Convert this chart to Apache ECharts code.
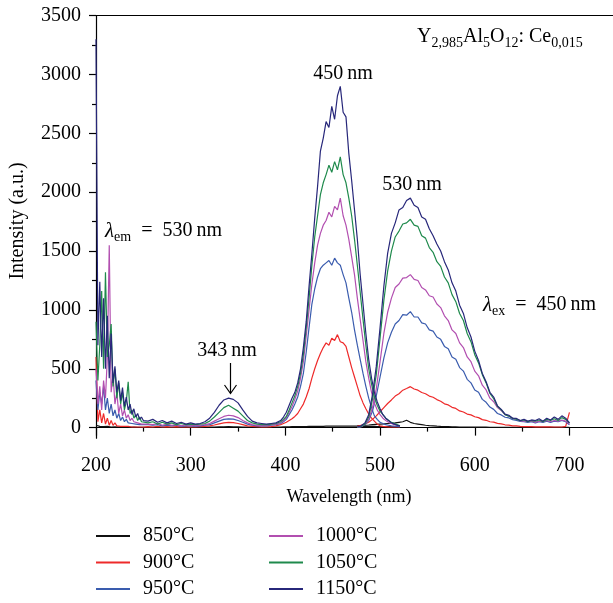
<!DOCTYPE html>
<html><head><meta charset="utf-8">
<script src="https://cdn.jsdelivr.net/npm/echarts@6/dist/echarts.min.js"></script>
<style>html,body{margin:0;padding:0;background:#fff}#c{width:613px;height:603px}</style>
</head><body><div id="c"></div>
<script>
const temps = ['850°C','900°C','950°C','1000°C','1050°C','1150°C'];
const colors = ['#111111','#ee2a2a','#3a5cae','#b24fb0','#1f8a4c','#27277a'];

const excWl = [200,202,204,206,208,210,212,214,216,218,220,222,224,226,228,230,232,234,236,238,240,242,244,246,248,250,
255,260,265,270,275,280,285,290,295,300,305,310,315,320,325,330,335,340,345,350,355,360,365,370,375,380,385,390,395,
398,401,404,407,410,413,416,419,422,425,428,431,434,437,440,443,446,449,452,455,458,461,464,467,470,473,476,479,482,485,488,491,494,497,500,503,506,509,512,515,518,521];
const emWl = [476,480,484,488,492,496,500,504,508,512,516,520,524,528,532,536,540,544,548,552,556,560,564,568,572,576,580,584,588,592,596,600,604,608,612,616,620,624,628,632,636,640,644,648,652,656,660,664,668,672,676,680,684,688,692,696,700];

const exc850 = [20,5,10,0,8,3,10,0,5,2,6,0,5,2,4,1,5,2,3,1,4,2,3,1,2,1,
2,3,1,2,3,1,2,2,1,3,2,2,3,4,5,6,7,8,7,6,5,4,3,3,2,3,3,4,5,
6,7,7,8,8,8,9,9,9,10,10,10,11,11,11,12,12,12,12,13,13,13,13,13,13,12,12,12,11,11,10,10,10,9,9,9,8,8,8,7,7,7];
const exc900 = [600,50,150,40,120,30,80,20,60,20,40,15,30,10,25,10,20,10,15,5,10,5,10,5,8,5,
8,5,10,5,8,5,8,5,8,5,5,8,10,15,22,32,40,45,42,35,25,15,10,8,5,5,8,15,25,
35,45,60,75,95,120,160,200,260,330,420,500,570,630,680,720,700,760,740,790,730,720,690,600,510,430,350,270,210,160,115,80,55,30,15,10,8,5,5,5,5,5];
const exc950 = [400,150,300,200,350,150,250,120,200,100,150,80,120,60,90,50,70,40,55,35,45,30,35,25,30,25,
25,20,25,15,20,15,20,10,15,15,10,15,20,25,40,55,70,75,72,60,45,30,20,15,15,15,20,25,35,
50,70,110,150,200,260,350,460,640,850,1050,1180,1280,1350,1380,1400,1420,1380,1440,1400,1380,1300,1230,1100,980,830,700,580,460,350,250,170,100,70,45,35,25,20,15,12,10,8];
const exc1000 = [500,200,350,150,400,250,600,1550,300,450,200,300,120,200,100,150,80,110,60,80,50,60,40,50,30,40,
30,25,35,20,30,20,25,15,25,20,15,20,25,35,55,75,95,105,100,85,60,40,25,20,15,20,25,30,40,
60,85,130,180,240,310,420,560,780,1000,1220,1400,1550,1650,1720,1760,1830,1790,1880,1850,1950,1800,1720,1600,1450,1300,1100,920,740,560,420,300,210,150,110,80,60,45,35,25,20,15];
const exc1050 = [900,400,700,1160,500,1320,600,700,880,350,500,250,380,200,300,150,220,390,120,150,80,110,60,90,50,60,
40,50,30,45,30,40,25,35,25,30,25,30,35,55,90,130,170,190,165,140,100,60,40,30,25,25,30,35,50,
70,95,150,210,270,350,460,620,850,1100,1380,1620,1800,1980,2080,2150,2230,2170,2260,2190,2300,2150,2080,1950,1800,1600,1380,1150,920,700,500,370,260,190,140,110,80,60,45,35,25,15];
const exc1150 = [3300,700,1240,600,1100,500,950,420,800,380,520,300,400,230,340,180,260,150,200,110,160,90,120,70,90,60,
55,70,45,60,40,55,35,45,30,40,30,35,50,80,130,190,235,250,240,210,150,95,55,40,35,30,35,40,60,
90,130,190,250,300,380,500,680,900,1200,1480,1780,2050,2350,2460,2600,2550,2730,2620,2820,2900,2680,2640,2330,2100,1850,1600,1300,1050,800,580,420,300,220,160,110,80,60,40,30,20,15];

const em850 = [15,18,20,22,25,28,30,32,35,38,40,45,50,62,45,35,30,25,20,17,15,12,10,9,8,7,6,5,5,5,4,4,4,4,4,3,3,3,3,3,3,3,3,3,3,3,3,3,3,3,3,3,3,3,3,3,3];
const em900 = [10,20,30,45,70,100,135,170,205,235,268,288,318,332,348,328,318,298,288,268,258,238,224,202,193,172,163,142,133,115,108,92,85,68,62,50,47,36,32,24,21,15,14,10,9,8,8,7,7,6,6,6,5,5,5,10,130];
const em950 = [2,8,25,60,140,270,430,590,720,810,880,910,960,955,985,940,940,890,880,830,820,770,750,690,670,600,580,510,480,410,380,320,300,240,215,175,155,120,108,88,82,68,62,53,50,45,50,40,50,45,55,45,55,50,60,50,25];
const em1000 = [2,8,30,70,170,330,560,800,980,1100,1190,1220,1270,1275,1300,1260,1250,1190,1170,1120,1110,1050,1020,950,910,830,800,720,680,600,560,480,440,360,320,250,220,170,145,110,98,78,72,58,55,50,55,45,55,50,60,50,60,55,65,55,30];
const em1050 = [3,10,30,90,240,450,760,1080,1330,1500,1620,1670,1730,1740,1770,1720,1710,1630,1610,1530,1490,1410,1370,1280,1230,1130,1070,970,910,800,730,620,550,450,380,290,245,180,150,110,98,78,72,58,65,50,60,55,65,50,70,60,75,60,85,70,40];
const em1150 = [5,15,40,110,280,520,850,1200,1480,1650,1740,1850,1870,1930,1950,1890,1870,1790,1770,1690,1630,1560,1500,1410,1340,1230,1160,1040,970,850,770,650,570,460,390,300,260,185,155,115,105,80,78,60,70,55,65,60,75,55,80,65,90,70,100,80,40];

const xTicks = [200,300,400,500,600,700];
const xMinorTicks = [250,350,450,550,650];
const yTicks = [0,500,1000,1500,2000,2500,3000,3500];
const yMinorTicks = [250,750,1250,1750,2250,2750,3250];

const excAll = [exc850,exc900,exc950,exc1000,exc1050,exc1150];
const emAll = [em850,em900,em950,em1000,em1050,em1150];

const F = 'Liberation Serif';
const X_MIN = 200, X_MAX = 746, Y_MIN = -90, Y_MAX = 3500;
const zip = (xs, ys) => xs.map((x, i) => [x, ys[i]]);

const series = [];
temps.forEach((t, i) => {
  [zip(excWl, excAll[i]), zip(emWl, emAll[i])].forEach(d => {
    series.push({
      name: t, type: 'line', data: d, xAxisIndex: 0, yAxisIndex: 0,
      showSymbol: false, symbol: 'none', color: colors[i],
      lineStyle: { width: 1.2, color: colors[i] }, animation: false, z: 2 + i
    });
  });
});

const gridPos = { left: 96, right: 0, top: 15.7, bottom: 164.8 };
const blk = { color: '#000', width: 1.2 };
const rich = {
  n: { fontSize: 20, fontFamily: F, color: '#000' },
  s: { fontSize: 14, fontFamily: F, color: '#000', padding: [13, 0, 0, 0] },
  l: { fontSize: 21, fontFamily: F, fontStyle: 'italic', color: '#000' }
};
function txt(x, y, text, align) {
  return { type: 'text', x: x, y: y, z: 100,
    style: { text: text, rich: rich, font: '20px "Liberation Serif"', fill: '#000',
      textAlign: align || 'left', align: align || 'left', textVerticalAlign: 'middle', verticalAlign: 'middle' } };
}
const legendText = { fontSize: 20, fontFamily: F, color: '#000', lineHeight: 20, padding: [0, 0, 0, 8] };

const chart = echarts.init(document.getElementById('c'), null, { renderer: 'canvas' });
chart.setOption({
  animation: false,
  backgroundColor: '#fff',
  grid: [Object.assign({}, gridPos), Object.assign({}, gridPos)],
  xAxis: [
    { type: 'value', gridIndex: 0, min: X_MIN, max: X_MAX, position: 'bottom',
      axisLine: { lineStyle: blk }, splitLine: { show: false },
      axisTick: { customValues: xTicks, length: 8, lineStyle: blk },
      axisLabel: { customValues: xTicks, margin: 18, fontSize: 20, fontFamily: F, color: '#000',
        formatter: v => String(v) } },
    { type: 'value', gridIndex: 0, min: X_MIN, max: X_MAX, position: 'top',
      axisLine: { lineStyle: blk }, splitLine: { show: false },
      axisTick: { show: false }, axisLabel: { show: false } },
    { type: 'value', gridIndex: 1, min: X_MIN, max: X_MAX, position: 'bottom',
      axisLine: { show: false }, splitLine: { show: false },
      axisTick: { customValues: xMinorTicks, length: 4, lineStyle: blk }, axisLabel: { show: false } }
  ],
  yAxis: [
    { type: 'value', gridIndex: 0, min: Y_MIN, max: Y_MAX, position: 'left',
      axisLine: { lineStyle: blk }, splitLine: { show: false },
      axisTick: { customValues: yTicks, length: 7, lineStyle: blk },
      axisLabel: { customValues: yTicks, margin: 15, fontSize: 20, fontFamily: F, color: '#000',
        formatter: v => String(v) } },
    { type: 'value', gridIndex: 1, min: Y_MIN, max: Y_MAX, position: 'left',
      axisLine: { show: false }, splitLine: { show: false },
      axisTick: { customValues: yMinorTicks, length: 4, lineStyle: blk }, axisLabel: { show: false } }
  ],
  legend: [
    { data: temps.slice(0, 3), orient: 'vertical', left: 96, top: 526, padding: 0,
      itemWidth: 34, itemHeight: 2, itemGap: 6.5, icon: 'rect', selectedMode: false, textStyle: legendText },
    { data: temps.slice(3), orient: 'vertical', left: 269, top: 526, padding: 0,
      itemWidth: 34, itemHeight: 2, itemGap: 6.5, icon: 'rect', selectedMode: false, textStyle: legendText }
  ],
  graphic: [
    txt(417, 37, '{n|Y}{s|2,985}{n|Al}{s|5}{n|O}{s|12}{n|: Ce}{s|0,015}'),
    txt(343, 74, '{n|450\u2009nm}', 'center'),
    txt(412, 185, '{n|530\u2009nm}', 'center'),
    txt(483, 305, '{l|λ}{s|ex}{n|\u2002=\u2002450\u2009nm}'),
    txt(105, 231, '{l|λ}{s|em}{n|\u2002=\u2002530\u2009nm}'),
    txt(227, 351, '{n|343\u2009nm}', 'center'),
    { type: 'line', z: 100, shape: { x1: 230.5, y1: 363, x2: 230.5, y2: 393 }, style: { stroke: '#000', lineWidth: 1.2 } },
    { type: 'polyline', z: 100, shape: { points: [[224.5, 385], [230.5, 393.5], [236.5, 385]] }, style: { stroke: '#000', lineWidth: 1.2, fill: null } },
    { type: 'text', x: 18, y: 221, rotation: Math.PI / 2, z: 100,
      style: { text: 'Intensity (a.u.)', font: '20px "Liberation Serif"', fill: '#000',
        textAlign: 'center', align: 'center', textVerticalAlign: 'middle', verticalAlign: 'middle' } },
    { type: 'text', x: 349, y: 497, z: 100,
      style: { text: 'Wavelength (nm)', font: '18px "Liberation Serif"', fill: '#000',
        textAlign: 'center', align: 'center', textVerticalAlign: 'middle', verticalAlign: 'middle' } }
  ],
  series: series
});
</script>
</body></html>
